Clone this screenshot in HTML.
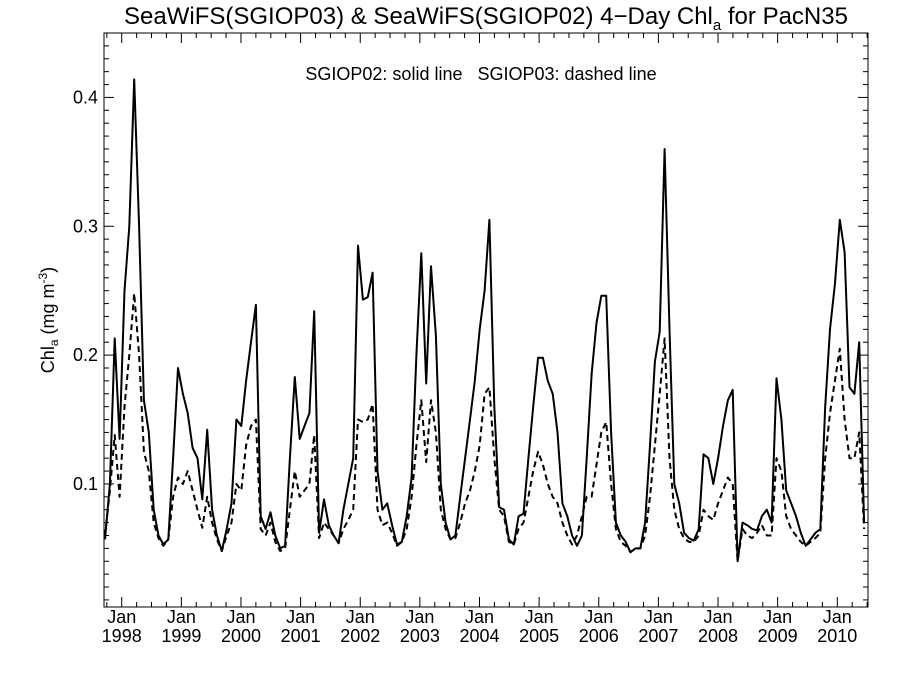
<!DOCTYPE html>
<html><head><meta charset="utf-8"><style>
body{margin:0;background:#fff;}
svg{display:block;font-family:"Liberation Sans",sans-serif;}
</style></head><body>
<svg id="chart" width="900" height="675" viewBox="0 0 900 675" xmlns="http://www.w3.org/2000/svg">
<text x="486" y="24" font-size="24" text-anchor="middle">SeaWiFS(SGIOP03) &amp; SeaWiFS(SGIOP02) 4−Day Chl<tspan font-size="15" dy="6">a</tspan><tspan dy="-6"> for PacN35</tspan></text>
<text x="481" y="80" font-size="18" text-anchor="middle" xml:space="preserve" style="white-space:pre">SGIOP02: solid line   SGIOP03: dashed line</text>
<text transform="translate(54,320) rotate(-90)" font-size="18" text-anchor="middle">Chl<tspan font-size="12" dy="4">a</tspan><tspan dy="-4"> (mg m</tspan><tspan font-size="12" dy="-7">-3</tspan><tspan dy="7">)</tspan></text>
<g id="axes"></g>
<g id="series"></g>
</svg>
<script>
const yTicks=[0.1,0.2,0.3,0.4];
const yTickLabels=["0.1","0.2","0.3","0.4"];
const years=[1998,1999,2000,2001,2002,2003,2004,2005,2006,2007,2008,2009,2010];
const startYear=1997.72;
const dt=0.0816;
const sgiop02=[0.057,0.10,0.213,0.135,0.25,0.30,0.414,0.30,0.165,0.14,0.08,0.06,0.053,0.057,0.12,0.19,0.17,0.155,0.128,0.12,0.088,0.142,0.08,0.06,0.048,0.065,0.085,0.15,0.145,0.18,0.21,0.239,0.075,0.065,0.078,0.06,0.05,0.052,0.12,0.183,0.135,0.145,0.155,0.234,0.062,0.088,0.068,0.06,0.054,0.08,0.1,0.12,0.285,0.243,0.245,0.264,0.11,0.08,0.085,0.068,0.053,0.055,0.075,0.105,0.20,0.279,0.178,0.269,0.215,0.10,0.07,0.057,0.06,0.09,0.12,0.15,0.18,0.22,0.25,0.305,0.16,0.082,0.08,0.057,0.053,0.075,0.077,0.12,0.16,0.198,0.198,0.18,0.17,0.14,0.085,0.075,0.06,0.052,0.06,0.12,0.185,0.225,0.246,0.246,0.14,0.07,0.06,0.055,0.047,0.05,0.05,0.07,0.13,0.195,0.218,0.36,0.22,0.10,0.085,0.062,0.058,0.056,0.065,0.123,0.12,0.10,0.12,0.145,0.165,0.173,0.04,0.07,0.068,0.065,0.064,0.075,0.08,0.07,0.182,0.15,0.095,0.085,0.075,0.062,0.052,0.057,0.062,0.065,0.16,0.22,0.255,0.305,0.28,0.175,0.17,0.21,0.07];
const sgiop03=[0.06,0.095,0.138,0.09,0.16,0.20,0.248,0.20,0.125,0.11,0.07,0.058,0.052,0.057,0.09,0.105,0.10,0.11,0.095,0.08,0.066,0.09,0.07,0.057,0.048,0.06,0.07,0.10,0.095,0.13,0.145,0.15,0.065,0.06,0.07,0.055,0.048,0.05,0.08,0.11,0.09,0.095,0.10,0.138,0.058,0.07,0.065,0.06,0.054,0.065,0.072,0.08,0.15,0.148,0.15,0.162,0.08,0.068,0.07,0.062,0.052,0.055,0.065,0.09,0.13,0.165,0.117,0.165,0.14,0.08,0.065,0.057,0.058,0.07,0.085,0.095,0.11,0.13,0.17,0.175,0.12,0.08,0.075,0.055,0.053,0.065,0.07,0.09,0.11,0.125,0.115,0.10,0.09,0.085,0.07,0.06,0.053,0.06,0.075,0.09,0.09,0.115,0.14,0.148,0.10,0.065,0.055,0.052,0.047,0.05,0.05,0.06,0.09,0.13,0.17,0.213,0.12,0.08,0.065,0.058,0.055,0.055,0.06,0.08,0.075,0.072,0.085,0.095,0.105,0.10,0.04,0.065,0.06,0.058,0.062,0.068,0.06,0.06,0.12,0.11,0.075,0.065,0.06,0.055,0.052,0.055,0.058,0.062,0.12,0.155,0.18,0.205,0.15,0.12,0.12,0.14,0.065];

const L=104,R=868,T=33,B=607;
const tMin=1997.703,tMax=2010.515,vMin=0.0045,vMax=0.45;
const X=t=>L+(t-tMin)/(tMax-tMin)*(R-L);
const Y=v=>B-(v-vMin)/(vMax-vMin)*(B-T);
const NS="http://www.w3.org/2000/svg";
const axes=document.getElementById('axes'),series=document.getElementById('series');
function mk(tag,attrs,parent){const e=document.createElementNS(NS,tag);for(const k in attrs)e.setAttribute(k,attrs[k]);parent.appendChild(e);return e;}

const frame=mk('rect',{x:L,y:T,width:R-L,height:B-T,fill:'none',stroke:'#000','stroke-width':1},axes);



for(let k=1;k<=45;k++){const v=k/100;if(v<vMin||v>vMax)continue;const y=Y(v);const major=k%10===0;const len=major?10:5;
 const t1=mk('line',{x1:L,x2:L+len,y1:y,y2:y,stroke:'#000'},axes);
 
 
 const t2=mk('line',{x1:R,x2:R-len,y1:y,y2:y,stroke:'#000'},axes);
 
 }
yTicks.forEach((v,i)=>{const tx=mk('text',{x:L-6,y:Y(v)+6,'font-size':18,'text-anchor':'end'},axes);tx.textContent=yTickLabels[i];
 
 });

for(let q=Math.ceil(tMin*4);q/4<=tMax;q++){const t=q/4;const major=q%4===0;const len=major?10:5;const x=X(t);
 const a=mk('line',{x1:x,x2:x,y1:B,y2:B-len,stroke:'#000'},axes);
 
 
 const b=mk('line',{x1:x,x2:x,y1:T,y2:T+len,stroke:'#000'},axes);
 
 }
years.forEach(yr=>{const x=X(yr);
 const j=mk('text',{x:x,y:623,'font-size':18,'text-anchor':'middle'},axes);j.textContent='Jan';
 
 
 const y=mk('text',{x:x,y:642,'font-size':18,'text-anchor':'middle'},axes);y.textContent=String(yr);
 
 });

function line(data,dash,name){const pts=data.map((v,i)=>X(startYear+i*dt).toFixed(1)+','+Y(v).toFixed(1)).join(' ');
 const p=mk('polyline',{points:pts,fill:'none',stroke:'#000','stroke-width':2,'stroke-linejoin':'round'},series);
 if(dash)p.setAttribute('stroke-dasharray','6,4');
 
 }
line(sgiop03,true,'sgiop03-dashed-line');
line(sgiop02,false,'sgiop02-solid-line');
</script>
</body></html>
